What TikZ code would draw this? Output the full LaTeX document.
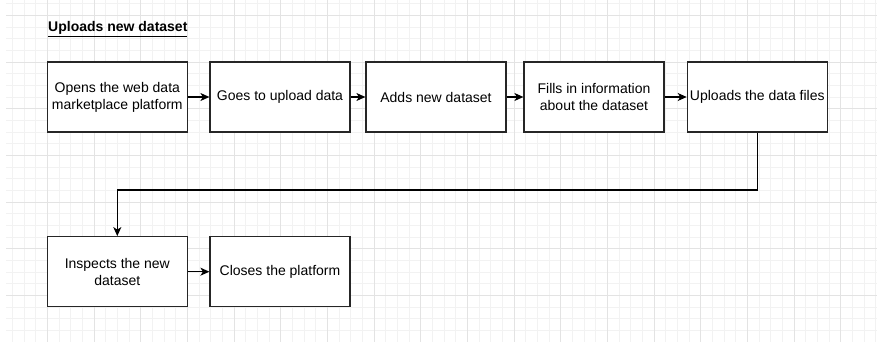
\documentclass[tikz,border=0pt]{standalone}
\usepackage{fontspec}
\setmainfont{Liberation Sans}
\usetikzlibrary{arrows.meta}

\tikzset{
  gridminor/.style={draw=black!5, line width=0.6pt},
  gridmajor/.style={draw=black!11, line width=0.8pt},
  stepbox/.style={rectangle, draw=black!85, line width=1.2pt, fill=white,
    minimum width=140pt, minimum height=70pt, inner sep=0pt,
    align=center,
    font=\fontsize{14}{16.8}\selectfont},
  flow/.style={draw=black, line width=1.2pt,
    -{Stealth[length=9pt, width=8pt, inset=2.5pt]}},
  heading/.style={font=\fontsize{14}{16.8}\selectfont\bfseries, inner sep=0pt}
}

\begin{document}
\begin{tikzpicture}[x=1pt, y=-1pt]
  \useasboundingbox (0,0) rectangle (877,342);
  \fill[white] (0,0) rectangle (877,342);

  % background grid
  \begin{scope}
    \clip (6,0) rectangle (877,342);
    \foreach \i in {-4,...,71}
      \draw[gridminor] ({47.33+\i*11.667},0) -- ({47.33+\i*11.667},342);
    \foreach \j in {-6,...,24}
      \draw[gridminor] (0,{62+\j*11.667}) -- (877,{62+\j*11.667});
    \foreach \i in {-1,...,18}
      \draw[gridmajor] ({47.33+\i*46.667},0) -- ({47.33+\i*46.667},342);
    \foreach \j in {-2,...,6}
      \draw[gridmajor] (0,{62+\j*46.667}) -- (877,{62+\j*46.667});
  \end{scope}

  % title
  \node[heading, anchor=base west] (title) at (48,31.7) {\underline{Uploads new dataset}};

  % process steps
  \node[stepbox] (open)    at (117.3,97)  {Opens the web data\\marketplace platform};
  \node[stepbox] (goto)    at (280,97)    {Goes to upload data};
  \node[stepbox] (add)     at (436,97)    {Adds new dataset};
  \node[stepbox] (fill)    at (594,97)    {Fills in information\\about the dataset};
  \node[stepbox] (upload)  at (757.3,97)  {Uploads the data files};
  \node[stepbox] (inspect) at (117.3,271.7) {Inspects the new\\dataset};
  \node[stepbox] (close)   at (280,271.7) {Closes the platform};

  % connectors
  \draw[flow] (open) -- (goto);
  \draw[flow] (goto) -- (add);
  \draw[flow] (add) -- (fill);
  \draw[flow] (fill) -- (upload);
  \coordinate (wrap) at (437,190);
  \draw[flow] (upload.south) |- (wrap) -| (inspect.north);
  \draw[flow] (inspect) -- (close);
\end{tikzpicture}
\end{document}
